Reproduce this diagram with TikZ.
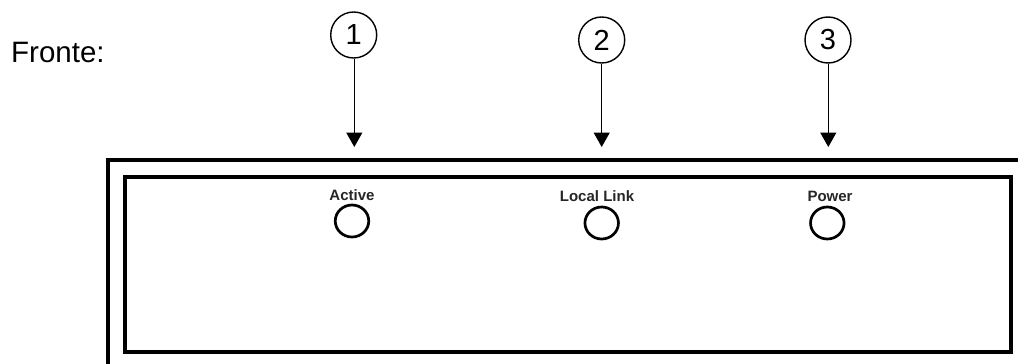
\documentclass[tikz,border=0pt]{standalone}
\usepackage{fontspec}
\setmainfont{Liberation Sans}
\usetikzlibrary{arrows.meta,shapes.geometric}
\tikzset{
  x=1pt,y=-1pt,
  callout/.style={circle,draw,line width=1.4pt,minimum size=46pt,inner sep=0pt,font=\fontsize{29}{31}\selectfont},
  pointer/.style={line width=1.4pt,-{Triangle[length=14.5pt,width=16pt]}},
  led/.style={ellipse,draw,line width=2.7pt,minimum width=33.5pt,minimum height=32pt,inner sep=0pt},
  ledlabel/.style={inner sep=0pt,anchor=base,font=\bfseries\fontsize{15}{17}\selectfont,text=black!85},
  frame/.style={draw,line width=3.8pt}
}
\begin{document}
\begin{tikzpicture}
\useasboundingbox (0,0) rectangle (1018,364);
\path[fill=white] (0,0) rectangle (1018,364);
\node[anchor=base west,inner sep=0pt,font=\fontsize{29.5}{31}\selectfont] (fronte) at (11,62) {Fronte:};
\draw[frame] (1030,160) -- (107.7,160) -- (107.7,376);
\draw[frame] (125,176.8) rectangle (1011,352);
\node[callout] (c1) at (353.7,35) {1};
\node[callout] (c2) at (601.7,40) {2};
\node[callout] (c3) at (828,40) {3};
\coordinate (t1) at (354.3,147);
\coordinate (t2) at (601.7,147);
\coordinate (t3) at (828.3,147);
\draw[pointer] (c1.south -| t1) -- (t1);
\draw[pointer] (c2) -- (t2);
\draw[pointer] (c3.south -| t3) -- (t3);
\node[ledlabel] (la) at (352,200) {Active};
\node[ledlabel] (lb) at (597,201) {Local Link};
\node[ledlabel] (lc) at (830,201) {Power};
\node[led] (a) at (352,221) {};
\node[led] (b) at (601.7,223) {};
\node[led] (c) at (827.3,223) {};
\end{tikzpicture}
\end{document}
